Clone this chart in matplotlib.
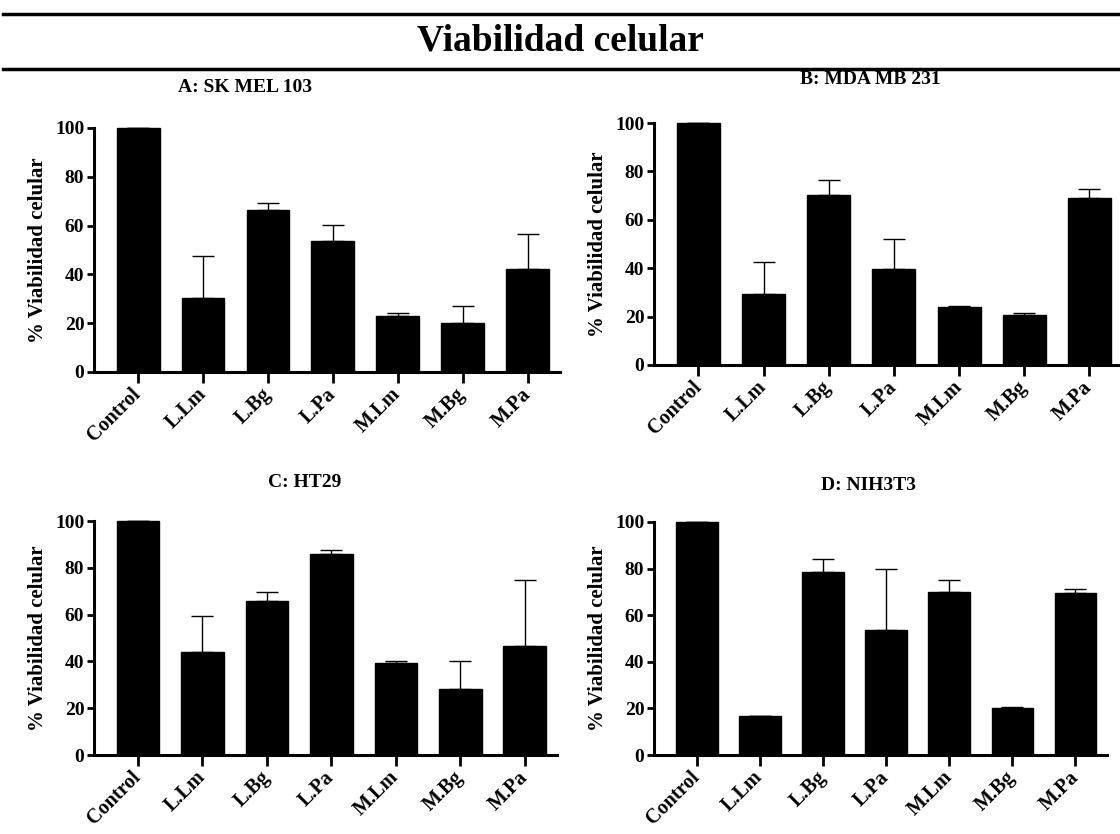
import numpy as np
import matplotlib
matplotlib.use("Agg")
import matplotlib.pyplot as plt
import matplotlib.transforms as mtransforms
from matplotlib.lines import Line2D

plt.rcParams["font.family"] = ["Liberation Serif", "DejaVu Serif"]
plt.rcParams["font.weight"] = "bold"

# =========================================================
# DATA
# =========================================================

categories = ["Control", "L.Lm", "L.Bg", "L.Pa", "M.Lm", "M.Bg", "M.Pa"]

panel_titles = ["A: SK MEL 103", "B: MDA MB 231", "C: HT29", "D: NIH3T3"]

sk_mel_mean = [100, 30.4, 66.5, 53.5, 23.1, 19.9, 42.2]
sk_mel_top = [100, 47.6, 69.3, 60.3, 24.3, 27.1, 56.4]

mda_mean = [100, 29.2, 70.1, 39.6, 24.0, 20.6, 69.1]
mda_top = [100, 42.5, 76.6, 52.2, 24.3, 21.6, 72.9]

ht29_mean = [100, 44.2, 65.8, 85.8, 39.2, 28.0, 46.4]
ht29_top = [100, 59.4, 69.5, 87.8, 40.3, 40.0, 74.6]

nih_mean = [100, 16.6, 78.6, 53.8, 69.8, 20.1, 69.4]
nih_top = [100, 16.9, 84.3, 80.0, 75.2, 20.7, 71.4]

y_ticks = [0, 20, 40, 60, 80, 100]

# =========================================================
# FIGURE
# =========================================================

W, H = 1120, 834
fig = plt.figure(figsize=(W / 100, H / 100), dpi=100)


def px_axes(left, right, top, bottom):
    return fig.add_axes([left / W, 1 - bottom / H, (right - left) / W, (bottom - top) / H])


# title block with rules
fig.add_artist(Line2D([3 / W, 1], [1 - 14 / H, 1 - 14 / H], color="black", lw=2.5,
                      transform=fig.transFigure))
fig.add_artist(Line2D([3 / W, 1], [1 - 69 / H, 1 - 69 / H], color="black", lw=2.5,
                      transform=fig.transFigure))
fig.text(560 / W, 1 - 41 / H, "Viabilidad celular", ha="center", va="center",
         fontsize=27, fontweight="bold")

panels = [
    (sk_mel_mean, sk_mel_top, (94, 560, 128, 372), (245, 88)),
    (mda_mean, mda_top, (654, 1122, 123, 365), (870, 80)),
    (ht29_mean, ht29_top, (94, 557, 521, 755), (305, 483)),
    (nih_mean, nih_top, (654, 1107, 522, 755), (868, 485)),
]

x = np.arange(len(categories))
shift = mtransforms.ScaledTranslation(-9 / 100, 0, fig.dpi_scale_trans)

for (means, tops, box, tpos), title in zip(panels, panel_titles):
    ax = px_axes(*box)
    means = np.array(means)
    upper = np.array(tops) - means

    ax.bar(x, means, width=0.66, color="black", edgecolor="black", zorder=2, clip_on=False)
    ax.errorbar(x, means, yerr=[np.zeros_like(upper), upper], fmt="none",
                ecolor="black", elinewidth=1.0, capsize=8, capthick=1.0,
                zorder=1, clip_on=False)

    ax.set_xlim(-0.68, 6.5)
    ax.set_ylim(0, 100)
    ax.set_yticks(y_ticks)
    ax.set_xticks(x)
    ax.set_xticklabels(categories, rotation=45, ha="right", va="center",
                       rotation_mode="anchor", fontsize=14.5, fontweight="bold")
    for lab in ax.get_xticklabels():
        lab.set_transform(lab.get_transform() + shift)
    for lab in ax.get_yticklabels():
        lab.set_fontsize(14)
        lab.set_fontweight("bold")
    ax.set_ylabel("% Viabilidad celular", fontsize=15, fontweight="bold", labelpad=5)

    ax.spines["top"].set_visible(False)
    ax.spines["right"].set_visible(False)
    ax.spines["left"].set_linewidth(2.2)
    ax.spines["bottom"].set_linewidth(2.2)
    ax.tick_params(axis="y", length=5, width=2, pad=2)
    ax.tick_params(axis="x", length=8, width=2, pad=6)

    fig.text(tpos[0] / W, 1 - tpos[1] / H, title, ha="center", va="center",
             fontsize=14, fontweight="bold")

fig.savefig("out.png", dpi=100)
